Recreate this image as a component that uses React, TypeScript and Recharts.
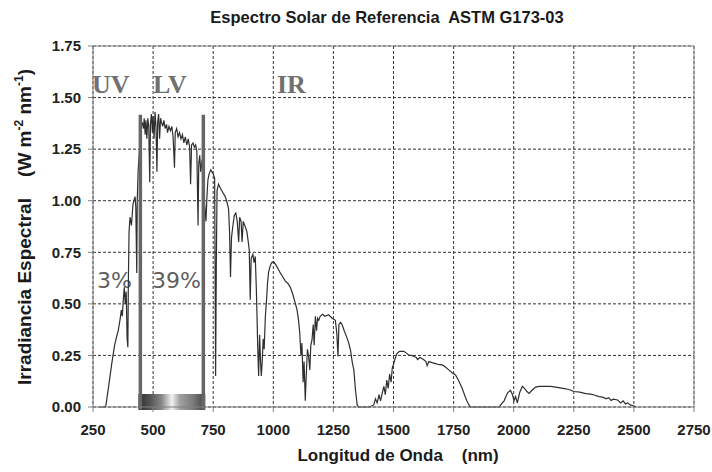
import React from 'react';
import {
  LineChart,
  Line,
  XAxis,
  YAxis,
  CartesianGrid,
  ReferenceLine,
  ReferenceArea,
} from 'recharts';

// Axis ticks
const xTicks = [250, 500, 750, 1000, 1250, 1500, 1750, 2000, 2250, 2500, 2750];
const yTicks = [0, 0.25, 0.5, 0.75, 1.0, 1.25, 1.5, 1.75];

// ASTM G173-03 spectrum (nm)
const wavelength = [
  280, 300, 304, 315, 328, 340, 350, 355, 362, 368, 372, 376, 380, 384, 388, 392, 395, 397, 400, 404,
  410, 416, 420, 425, 428, 432, 434, 438, 442, 446, 450, 455, 460, 463, 467, 470, 474, 478, 482, 486,
  489, 493, 497, 500, 504, 508, 512, 516, 519, 523, 527, 531, 535, 540, 545, 550, 556, 560, 566, 572,
  578, 583, 589, 592, 598, 604, 610, 616, 622, 628, 634, 640, 646, 652, 656, 660, 666, 672, 677, 682,
  687, 690, 694, 698, 704, 710, 716, 720, 724, 728, 733, 740, 745, 750, 756, 760, 763, 766, 772, 780,
  790, 800, 808, 814, 818, 822, 826, 832, 838, 844, 850, 856, 860, 866, 870, 875, 883, 890, 896, 900,
  904, 908, 915, 920, 925, 930, 935, 939, 943, 947, 950, 953, 958, 962, 967, 972, 976, 980, 986, 993,
  1001, 1010, 1020, 1029, 1040, 1050, 1060, 1071, 1080, 1090, 1099, 1105, 1110, 1115, 1119, 1124, 1128, 1133, 1137, 1142,
  1147, 1152, 1156, 1161, 1166, 1170, 1175, 1180, 1184, 1189, 1195, 1205, 1215, 1230, 1245, 1258, 1264, 1269, 1273, 1280,
  1286, 1295, 1305, 1314, 1322, 1328, 1335, 1342, 1349, 1355, 1400, 1418, 1425, 1432, 1440, 1446, 1453, 1460, 1466, 1472,
  1478, 1484, 1490, 1495, 1501, 1508, 1515, 1525, 1535, 1543, 1555, 1565, 1575, 1585, 1595, 1600, 1610, 1625, 1635, 1640,
  1647, 1660, 1675, 1690, 1703, 1715, 1730, 1745, 1758, 1770, 1778, 1786, 1795, 1805, 1814, 1820, 1940, 1946, 1960, 1975,
  1987, 1995, 2001, 2008, 2015, 2025, 2036, 2045, 2055, 2064, 2075, 2090, 2105, 2130, 2154, 2180, 2205, 2230, 2251, 2275,
  2300, 2320, 2335, 2355, 2370, 2385, 2395, 2405, 2415, 2432, 2445, 2455, 2465, 2474, 2485, 2501, 2510,
];

// Spectral irradiance (W m-2 nm-1)
const irradiance = [
  0, 0, 0.01, 0.1, 0.21, 0.3, 0.35, 0.37, 0.42, 0.47, 0.44, 0.52, 0.58, 0.5, 0.56, 0.33, 0.29, 0.6, 0.85, 0.92,
  0.88, 0.98, 1.0, 1.02, 0.97, 0.65, 1.0, 1.15, 1.22, 1.3, 1.36, 1.38, 1.35, 1.4, 1.32, 1.39, 1.3, 1.4, 1.36, 1.09,
  1.37, 1.42, 1.33, 1.41, 1.3, 1.43, 1.36, 1.14, 1.38, 1.42, 1.3, 1.4, 1.38, 1.36, 1.39, 1.35, 1.37, 1.33, 1.36, 1.34,
  1.36, 1.31, 1.16, 1.33, 1.35, 1.31, 1.33, 1.3, 1.32, 1.28, 1.31, 1.27, 1.3, 1.26, 1.08, 1.27, 1.28, 1.26, 1.27, 1.24,
  0.88, 1.18, 1.22, 1.14, 1.2, 1.05, 0.96, 0.9, 1.02, 1.1, 1.13, 1.15, 1.14, 1.13, 1.11, 0.15, 0.7, 1.05, 1.08, 1.06,
  1.04, 1.02, 0.99, 0.96, 0.85, 0.63, 0.82, 0.88, 0.93, 0.94, 0.9, 0.8, 0.92, 0.9, 0.8, 0.9, 0.875, 0.85, 0.8, 0.76,
  0.52, 0.72, 0.74, 0.7, 0.73, 0.55, 0.3, 0.15, 0.35, 0.22, 0.15, 0.2, 0.33, 0.28, 0.44, 0.52, 0.6, 0.65, 0.68, 0.7,
  0.705, 0.69, 0.67, 0.65, 0.63, 0.61, 0.6, 0.58, 0.55, 0.51, 0.47, 0.42, 0.36, 0.25, 0.31, 0.12, 0.22, 0.03, 0.15, 0.28,
  0.245, 0.18, 0.3, 0.325, 0.4, 0.3, 0.44, 0.37, 0.43, 0.42, 0.44, 0.45, 0.44, 0.447, 0.43, 0.42, 0.36, 0.245, 0.4, 0.41,
  0.4, 0.37, 0.34, 0.31, 0.27, 0.22, 0.18, 0.08, 0.01, 0, 0, 0.01, 0.04, 0.02, 0.06, 0.03, 0.066, 0.1, 0.06, 0.13,
  0.09, 0.16, 0.12, 0.19, 0.21, 0.24, 0.26, 0.27, 0.27, 0.27, 0.26, 0.25, 0.25, 0.245, 0.24, 0.23, 0.24, 0.23, 0.22, 0.2,
  0.22, 0.215, 0.21, 0.205, 0.204, 0.195, 0.18, 0.165, 0.155, 0.13, 0.11, 0.09, 0.06, 0.03, 0.01, 0, 0, 0.01, 0.03, 0.07,
  0.08, 0.06, 0.03, 0.05, 0.02, 0.07, 0.1, 0.09, 0.075, 0.066, 0.08, 0.095, 0.1, 0.1, 0.1, 0.095, 0.09, 0.085, 0.075, 0.072,
  0.065, 0.062, 0.058, 0.05, 0.048, 0.04, 0.045, 0.032, 0.038, 0.034, 0.02, 0.03, 0.015, 0.02, 0.01, 0.005, 0,
];

// Visible band limits (nm) and share of the total energy
const bandLimits = [447, 709];
const bandTop = 1.417;
const bandShares = ['3%', '39%'];

const chartData = wavelength.map((nm, i) => ({ nm, value: irradiance[i] }));

const FONT = '"Liberation Sans", Arial, sans-serif';
const SERIF = '"Liberation Serif", "Times New Roman", serif';

export default function App() {
  return (
    <div style={{ position: 'absolute', left: 0, top: 0, background: '#fff' }}>
      <LineChart
        width={712}
        height={472}
        data={chartData}
        margin={{ top: 46, right: 18, left: 33, bottom: 35 }}
      >
        <defs>
          <linearGradient id="lvGrad" x1="0" y1="0" x2="1" y2="0">
            <stop offset="0%" stopColor="#2e2e2e" />
            <stop offset="18%" stopColor="#555" />
            <stop offset="35%" stopColor="#8a8a8a" />
            <stop offset="50%" stopColor="#f2f2f2" />
            <stop offset="62%" stopColor="#a0a0a0" />
            <stop offset="82%" stopColor="#7a7a7a" />
            <stop offset="100%" stopColor="#444" />
          </linearGradient>
        </defs>

        <CartesianGrid stroke="#333" strokeDasharray="3 2" />

        <XAxis
          type="number"
          dataKey="nm"
          domain={[250, 2750]}
          ticks={xTicks}
          interval={0}
          height={30}
          tickSize={5}
          tickMargin={12}
          stroke="#808080"
          tick={{ fontSize: 15, fontWeight: 'bold', fill: '#222', fontFamily: FONT }}
        />
        <YAxis
          type="number"
          domain={[0, 1.75]}
          ticks={yTicks}
          interval={0}
          width={60}
          tickSize={5}
          tickMargin={7}
          stroke="#808080"
          tickFormatter={(v: number) => v.toFixed(2)}
          tick={{ fontSize: 15, fontWeight: 'bold', fill: '#222', fontFamily: FONT }}
        />

        {/* plot border top / right */}
        <ReferenceLine y={1.75} stroke="#8c8c8c" strokeWidth={1} />
        <ReferenceLine x={2750} stroke="#8c8c8c" strokeWidth={1} />

        <Line
          type="linear"
          dataKey="value"
          stroke="#2f2f2f"
          strokeWidth={1.2}
          dot={false}
          isAnimationActive={false}
        />

        {bandLimits.map((x) => (
          <ReferenceLine
            key={x}
            segment={[{ x, y: -0.012 }, { x, y: bandTop }]}
            stroke="#666"
            strokeWidth={3.5}
            ifOverflow="visible"
          />
        ))}
        <ReferenceArea
          x1={439}
          x2={717}
          y1={-0.015}
          y2={0.063}
          fill="url(#lvGrad)"
          fillOpacity={1}
          stroke="none"
          ifOverflow="visible"
        />

        {/* title */}
        <text
          x={387}
          y={23}
          textAnchor="middle"
          fontFamily={FONT}
          fontWeight="bold"
          fontSize={16.5}
          fill="#1a1a1a"
          style={{ whiteSpace: 'pre' }}
        >
          Espectro Solar de Referencia  ASTM G173-03
        </text>

        {/* axis titles */}
        <text
          x={398}
          y={461}
          textAnchor="middle"
          fontFamily={FONT}
          fontWeight="bold"
          fontSize={17}
          fill="#1a1a1a"
          style={{ whiteSpace: 'pre' }}
        >
          Longitud de Onda    (nm)
        </text>
        <text
          x={31}
          y={227}
          transform="rotate(-90, 31, 227)"
          textAnchor="middle"
          fontFamily={FONT}
          fontWeight="bold"
          fontSize={19}
          fill="#1a1a1a"
          style={{ whiteSpace: 'pre' }}
        >
          {'Irradiancia Espectral    (W m'}
          <tspan fontSize={12} dy={-8}>-2</tspan>
          <tspan dy={8}> nm</tspan>
          <tspan fontSize={12} dy={-8}>-1</tspan>
          <tspan dy={8}>)</tspan>
        </text>

        {/* band labels */}
        <text x={92} y={93} fontFamily={SERIF} fontWeight="bold" fontSize={26} fill="#707070">UV</text>
        <text x={153} y={93} fontFamily={SERIF} fontWeight="bold" fontSize={26} fill="#707070">LV</text>
        <text x={277} y={93} fontFamily={SERIF} fontWeight="bold" fontSize={26} fill="#707070">IR</text>
        <text x={97} y={288} fontFamily='"DejaVu Sans", sans-serif' fontSize={22} fill="#5e5e5e">{bandShares[0]}</text>
        <text x={152} y={288} fontFamily='"DejaVu Sans", sans-serif' fontSize={22} fill="#5e5e5e">{bandShares[1]}</text>
      </LineChart>
    </div>
  );
}
